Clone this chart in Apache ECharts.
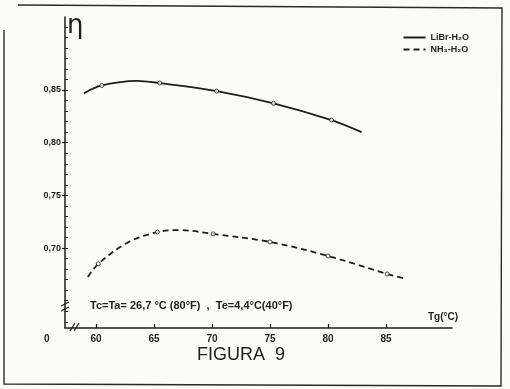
<!DOCTYPE html>
<html>
<head>
<meta charset="utf-8">
<script src="https://cdn.jsdelivr.net/npm/echarts@6/dist/echarts.min.js"></script>
<style>html,body{margin:0;padding:0;background:#fbfbfa;}#c{width:510px;height:389px;}</style>
</head>
<body>
<div id="c"></div>
<script>
// Data
const librCurveT   = [58.97, 60.5, 63.5, 65.5, 70.4, 75.3, 80.3, 82.9];
const librCurveEta = [0.847, 0.8543, 0.8587, 0.8566, 0.849, 0.8374, 0.8215, 0.810];
const librMarkT    = [60.5, 65.5, 70.4, 75.3, 80.3];
const librMarkEta  = [0.8543, 0.8566, 0.849, 0.8374, 0.8215];

const nh3CurveT    = [59.3, 60.2, 62.7, 65.3, 67.2, 70.1, 75.0, 80.0, 85.1, 86.8];
const nh3CurveEta  = [0.6726, 0.685, 0.705, 0.7152, 0.717, 0.7134, 0.7058, 0.6925, 0.6754, 0.6707];
const nh3MarkT     = [60.2, 65.3, 70.1, 75.0, 80.0, 85.1];
const nh3MarkEta   = [0.685, 0.7152, 0.7134, 0.7058, 0.6925, 0.6754];

const xTicks = [60, 65, 70, 75, 80, 85];
const yTicks = [0.70, 0.75, 0.80, 0.85];
const yMinorTicks = [0.63,0.64,0.65,0.66,0.67,0.68,0.69,0.70,0.71,0.72,0.73,0.74,0.75,0.76,0.77,0.78,0.79,0.80,0.81,0.82,0.83,0.84,0.85,0.86,0.87,0.88,0.89,0.90,0.91];

const zip = (a, b) => a.map((v, i) => [v, b[i]]);
const ink = '#1e1e1e';
const font = 'Liberation Sans';

const chart = echarts.init(document.getElementById('c'), null, {renderer: 'canvas'});
chart.setOption({
  backgroundColor: '#fbfbfa',
  animation: false,
  grid: {left: 65, right: 58, top: 17, bottom: 61},
  xAxis: {
    type: 'value', min: 57.33, max: 90.69,
    splitLine: {show: false},
    axisLine: {lineStyle: {color: ink, width: 1.5}},
    axisTick: {customValues: xTicks, inside: true, length: 4, lineStyle: {color: ink, width: 1.2}},
    axisLabel: {customValues: xTicks, color: ink, fontFamily: font, fontSize: 10, fontWeight: 'bold', margin: 6}
  },
  yAxis: [{
    type: 'value', min: 0.6241, max: 0.9193,
    splitLine: {show: false},
    axisLine: {lineStyle: {color: ink, width: 1.5}},
    axisTick: {customValues: yTicks, length: 3, lineStyle: {color: ink, width: 1.2}},
    axisLabel: {customValues: yTicks, color: ink, fontFamily: font, fontSize: 9, fontWeight: 'bold', margin: 4,
      formatter: v => v.toFixed(2).replace('.', ',')}
  }, {
    type: 'value', min: 0.6241, max: 0.9193, position: 'left', offset: 0,
    splitLine: {show: false},
    axisLine: {show: false},
    axisTick: {customValues: yMinorTicks, inside: true, length: 3, lineStyle: {color: ink, width: 1}},
    axisLabel: {show: false}
  }],
  legend: {
    orient: 'vertical', right: 36, top: 28, itemWidth: 22, itemHeight: 6, itemGap: 3,
    itemStyle: {opacity: 0},
    textStyle: {color: ink, fontFamily: font, fontSize: 9, fontWeight: 'bold'},
    data: ['LiBr-H₂O', 'NH₃-H₂O']
  },
  series: [
    {name: 'LiBr-H₂O', type: 'line', smooth: 0.35, symbol: 'none',
      lineStyle: {color: ink, width: 1.8}, itemStyle: {color: ink},
      data: zip(librCurveT, librCurveEta)},
    {type: 'scatter', symbol: 'circle', symbolSize: 4,
      itemStyle: {color: '#fbfbfa', borderColor: ink, borderWidth: 1},
      data: zip(librMarkT, librMarkEta), z: 5},
    {name: 'NH₃-H₂O', type: 'line', smooth: 0.35, symbol: 'none',
      lineStyle: {color: ink, width: 1.8, type: [6, 4]}, itemStyle: {color: ink},
      data: zip(nh3CurveT, nh3CurveEta)},
    {type: 'scatter', symbol: 'circle', symbolSize: 4,
      itemStyle: {color: '#fbfbfa', borderColor: ink, borderWidth: 1},
      data: zip(nh3MarkT, nh3MarkEta), z: 5}
  ],
  graphic: [
    // frame of the scanned figure
    {type: 'polyline', shape: {points: [[18,5],[502,8],[501,386],[4,384],[4,30]]},
      style: {stroke: '#2a2a2a', lineWidth: 1.4, fill: null}},
    // axis breaks
    {type: 'line', shape: {x1: 70, y1: 331, x2: 75, y2: 323}, style: {stroke: ink, lineWidth: 1.2}},
    {type: 'line', shape: {x1: 74, y1: 331, x2: 79, y2: 323}, style: {stroke: ink, lineWidth: 1.2}},
    {type: 'line', shape: {x1: 61, y1: 306, x2: 69, y2: 302}, style: {stroke: ink, lineWidth: 1.2}},
    {type: 'line', shape: {x1: 61, y1: 311, x2: 69, y2: 307}, style: {stroke: ink, lineWidth: 1.2}},
    {type: 'text', left: 44, top: 334, style: {text: '0', fill: ink, font: 'bold 10px ' + font}},
    {type: 'text', left: 67, top: 13, style: {text: 'η', fill: ink, font: '26px DejaVu Sans'}},
    {type: 'text', left: 428, top: 312, style: {text: 'Tg(°C)', fill: ink, font: 'bold 10px ' + font}},
    {type: 'text', left: 90, top: 300, style: {text: 'Tc=Ta= 26,7 °C (80°F)  ,  Te=4,4°C(40°F)', fill: ink, font: 'bold 11px ' + font}},
    {type: 'text', left: 197, top: 346, style: {text: 'FIGURA  9', fill: ink, font: '18px ' + font}}
  ]
});
</script>
</body>
</html>
